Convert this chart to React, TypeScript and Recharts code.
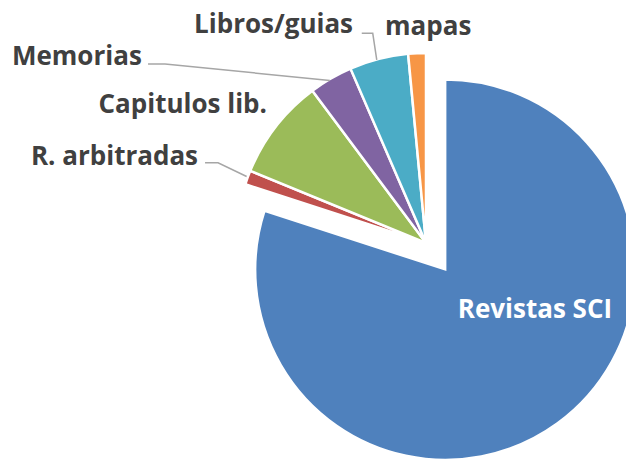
import React from 'react';
import { PieChart, Pie, Cell } from 'recharts';

// ---- data ----
const categories = ['Revistas SCI', 'R. arbitradas', 'Capitulos lib.', 'Memorias', 'Libros/guias', 'mapas'];
const values = [80, 1.2, 8.6, 3.7, 5.0, 1.5];
const colors = ['#4F81BD', '#C0504D', '#9BBB59', '#8064A2', '#4BACC6', '#F79646'];

const data = categories.map((name, i) => ({ name, value: values[i] }));

// ---- layout ----
const W = 626;
const H = 460;
const CX = 426;
const CY = 243;
const R = 190;
const EXPLODE = 33;
const FONT = { fontFamily: 'Open Sans', fontWeight: 700, fontSize: 26 };
const TEXT_COLOR = '#404040';
const LINE_COLOR = '#A6A6A6';

const total = values.reduce((a, b) => a + b, 0);
const explodedMid = ((values[0] / total) * 180 * Math.PI) / 180; // clock angle of exploded slice bisector
const BX = CX + EXPLODE * Math.sin(explodedMid);
const BY = CY - EXPLODE * Math.cos(explodedMid);

// label offsets relative to the arc point at each slice's mid angle
type Layout = { dx: number; dy: number; anchor: 'start' | 'end' | 'middle'; leader?: [number, number][] };
const labelLayout: Layout[] = [
  { dx: 0, dy: 0, anchor: 'middle' },
  { dx: -49.6, dy: -12.5, anchor: 'end', leader: [[-1, -1], [-29.6, -14.8], [-42.6, -14.8]] },
  { dx: -8.9, dy: -13.5, anchor: 'end' },
  { dx: -189, dy: -13.6, anchor: 'end', leader: [[-1, 2], [-165.8, -14.6], [-182.8, -14.6]] },
  { dx: -25.7, dy: -25.5, anchor: 'end', leader: [[-2, 1], [-6, -25.7], [-17, -25.7]] },
  { dx: -32, dy: -18.2, anchor: 'start' },
];

const renderSmallLabel = (props: any) => {
  const { index, midAngle } = props;
  if (index === 0) return null;
  const cx = CX;
  const cy = CY;
  const rad = (-midAngle * Math.PI) / 180;
  const px = cx + R * Math.cos(rad);
  const py = cy + R * Math.sin(rad);
  const L = labelLayout[index];
  const d = L.leader
    ? L.leader.map((p, i) => `${i === 0 ? 'M' : 'L'}${px + p[0]},${py + p[1]}`).join(' ')
    : null;
  return (
    <g key={`lbl-${index}`}>
      {d && <path d={d} fill="none" stroke={LINE_COLOR} strokeWidth={1.5} />}
      <text x={px + L.dx} y={py + L.dy} textAnchor={L.anchor} fill={TEXT_COLOR} style={FONT}>
        {categories[index]}
      </text>
    </g>
  );
};

const renderMainLabel = (props: any) => {
  const { index } = props;
  if (index !== 0) return null;
  return (
    <text key="lbl-main" x={BX + 89.5} y={BY + 48.4} textAnchor="middle" fill="#FFFFFF" style={FONT}>
      {categories[0]}
    </text>
  );
};

export default function App() {
  return (
    <div style={{ position: 'absolute', left: 0, top: 0, width: W, height: H, background: '#fff' }}>
      <PieChart width={W} height={H} margin={{ top: 0, right: 0, bottom: 0, left: 0 }}>
        <Pie
          data={data}
          dataKey="value"
          nameKey="name"
          cx={BX}
          cy={BY}
          outerRadius={R}
          startAngle={90}
          endAngle={-270}
          isAnimationActive={false}
          labelLine={false}
          label={renderMainLabel}
        >
          {data.map((_, i) => (
            <Cell
              key={`b-${i}`}
              fill={i === 0 ? colors[i] : 'transparent'}
              stroke={i === 0 ? '#FFFFFF' : 'none'}
              strokeWidth={2}
            />
          ))}
        </Pie>
        <Pie
          data={data}
          dataKey="value"
          nameKey="name"
          cx={CX}
          cy={CY}
          outerRadius={R}
          startAngle={90}
          endAngle={-270}
          isAnimationActive={false}
          labelLine={false}
          label={renderSmallLabel}
        >
          {data.map((_, i) => (
            <Cell
              key={`s-${i}`}
              fill={i === 0 ? 'transparent' : colors[i]}
              stroke={i === 0 ? 'none' : '#FFFFFF'}
              strokeWidth={2.5}
            />
          ))}
        </Pie>
      </PieChart>
    </div>
  );
}
